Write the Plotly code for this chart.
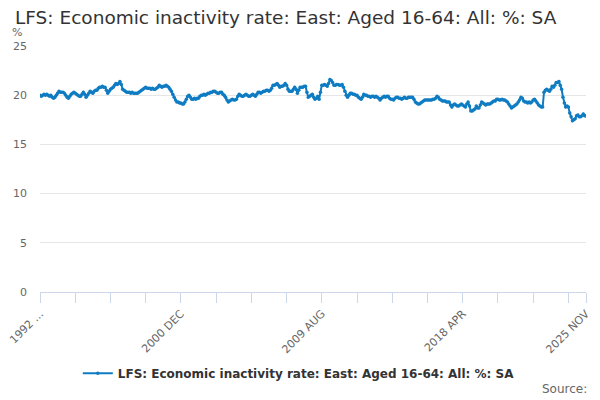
import plotly.graph_objects as go

# monthly series, 1992 APR .. 2025 NOV (one row per 12 months)
rate = [
    20.0, 19.9, 20.0, 20.1, 20.0, 20.1, 20.0, 19.9, 20.0, 19.8, 19.7, 19.8,
    20.0, 20.2, 20.4, 20.3, 20.3, 20.3, 20.2, 20.0, 19.8, 19.7, 19.9, 20.1,
    20.2, 20.3, 20.2, 20.1, 20.0, 19.9, 19.9, 20.1, 20.3, 20.1, 19.8, 20.0,
    20.2, 20.4, 20.3, 20.2, 20.4, 20.5, 20.5, 20.7, 20.8, 20.8, 20.9, 20.8,
    20.8, 20.5, 20.2, 20.4, 20.6, 20.7, 20.8, 21.0, 21.2, 21.1, 21.2, 21.4,
    21.1, 20.6, 20.5, 20.4, 20.3, 20.3, 20.3, 20.2, 20.3, 20.2, 20.2, 20.2,
    20.2, 20.3, 20.4, 20.5, 20.6, 20.7, 20.8, 20.7, 20.7, 20.7, 20.6, 20.7,
    20.6, 20.6, 20.7, 20.8, 21.0, 20.9, 20.8, 20.9, 20.9, 21.0, 20.9, 20.8,
    20.6, 20.4, 20.1, 19.8, 19.5, 19.3, 19.3, 19.2, 19.2, 19.1, 19.1, 19.3,
    19.6, 19.9, 20.0, 19.8, 19.6, 19.6, 19.7, 19.6, 19.7, 19.7, 19.9, 20.0,
    20.0, 20.1, 20.0, 20.1, 20.2, 20.2, 20.3, 20.3, 20.4, 20.4, 20.3, 20.2,
    20.2, 20.3, 20.3, 20.1, 20.0, 19.8, 19.5, 19.3, 19.4, 19.5, 19.6, 19.5,
    19.5, 19.6, 19.9, 20.1, 20.0, 19.9, 19.9, 20.0, 20.1, 20.0, 19.9, 19.9,
    20.0, 20.1, 20.0, 19.9, 20.1, 20.3, 20.3, 20.2, 20.3, 20.4, 20.4, 20.5,
    20.5, 20.4, 20.5, 20.7, 21.0, 21.0, 21.1, 21.2, 21.0, 20.8, 20.9, 20.9,
    21.0, 21.2, 21.0, 20.6, 20.4, 20.4, 20.4, 20.6, 20.8, 20.6, 20.2, 20.5,
    20.8, 20.8, 20.8, 20.9, 20.9, 20.3, 19.8, 19.9, 20.0, 20.1, 19.8, 19.6,
    19.7, 19.9, 19.6, 20.3, 21.0, 21.0, 21.1, 21.0, 20.9, 21.2, 21.6, 21.5,
    21.3, 21.0, 21.0, 21.1, 21.1, 21.0, 21.0, 21.1, 20.8, 20.4, 20.0, 19.8,
    20.0, 20.2, 20.2, 20.1, 20.1, 20.0, 20.0, 19.8, 19.7, 19.6, 19.8, 20.1,
    20.0, 20.0, 19.9, 19.9, 19.8, 19.9, 19.9, 19.8, 19.9, 19.8, 19.7, 19.5,
    19.7, 19.8, 19.9, 19.8, 19.9, 19.9, 19.7, 19.6, 19.6, 19.5, 19.7, 19.8,
    19.8, 19.7, 19.7, 19.6, 19.7, 19.8, 19.7, 19.7, 19.8, 19.8, 19.8, 19.8,
    19.6, 19.3, 19.2, 19.1, 19.1, 19.2, 19.3, 19.4, 19.5, 19.5, 19.5, 19.5,
    19.5, 19.5, 19.6, 19.6, 19.7, 19.9, 19.8, 19.6, 19.5, 19.4, 19.4, 19.4,
    19.3, 19.3, 19.3, 19.0, 18.8, 19.0, 19.1, 19.0, 18.9, 18.9, 19.0, 19.1,
    19.0, 18.9, 18.8, 19.1, 19.3, 18.9, 18.4, 18.4, 18.5, 18.6, 18.9, 18.7,
    18.7, 19.0, 19.3, 19.2, 19.1, 19.0, 19.1, 19.1, 19.1, 19.2, 19.3, 19.4,
    19.4, 19.6, 19.6, 19.5, 19.5, 19.6, 19.5, 19.5, 19.4, 19.3, 19.1, 18.9,
    18.7, 18.8, 18.9, 19.0, 19.1, 19.3, 19.5, 19.8, 19.7, 19.4, 19.3, 19.3,
    19.2, 19.3, 19.2, 19.3, 19.5, 19.6, 19.4, 19.2, 19.0, 18.9, 18.8, 18.8,
    20.3, 20.5, 20.6, 20.5, 20.4, 20.6, 20.9, 20.8, 21.0, 21.3, 21.3, 21.4,
    21.0, 20.6, 19.8, 19.2, 18.8, 18.9, 18.8, 18.2, 17.8, 17.4, 17.5, 17.6,
    17.9, 18.0, 17.8, 17.8, 17.9, 18.1, 17.9, 17.9,
]

month_names = ["JAN", "FEB", "MAR", "APR", "MAY", "JUN",
               "JUL", "AUG", "SEP", "OCT", "NOV", "DEC"]
start_year, start_month = 1992, 3  # APR
months = []
for i in range(len(rate)):
    k = start_month + i
    months.append(f"{start_year + k // 12} {month_names[k % 12]}")

label_months = ["1992 APR", "2000 DEC", "2009 AUG", "2018 APR", "2025 NOV"]
label_text = ["1992 ...", "2000 DEC", "2009 AUG", "2018 APR", "2025 NOV"]

# tick marks every 26 months, plus the last month
tick_vals = months[0:len(months) - 1:26]
if months[-1] not in tick_vals:
    tick_vals.append(months[-1])
tick_text = [label_text[label_months.index(m)] if m in label_months else ""
             for m in tick_vals]

series_name = "LFS: Economic inactivity rate: East: Aged 16-64: All: %: SA"
blue = "#0f7cc2"

fig = go.Figure()
fig.add_trace(go.Scatter(
    x=months, y=rate, mode="lines+markers", name="<b>" + series_name + "</b>",
    line=dict(color=blue, width=2),
    marker=dict(color=blue, size=3.5),
))

fig.update_layout(
    width=600, height=400,
    margin=dict(l=40, r=14, t=46, b=108, autoexpand=False),
    paper_bgcolor="white", plot_bgcolor="white",
    font=dict(family="DejaVu Sans", color="#666666", size=11),
    title=dict(text=series_name, x=15 / 600, xanchor="left",
               y=1 - 18 / 400, yanchor="middle",
               font=dict(size=18.5, color="#333333")),
    showlegend=True,
    legend=dict(orientation="h", x=0.474, xanchor="center",
                y=-0.33, yanchor="middle",
                font=dict(size=12, color="#333333", family="DejaVu Sans"),
                itemwidth=30),
    xaxis=dict(
        type="category", range=[0, len(months) - 1],
        tickmode="array", tickvals=tick_vals, ticktext=tick_text,
        tickangle=-45, ticks="outside", ticklen=10, tickcolor="#ccd6eb",
        showline=True, linecolor="#ccd6eb", showgrid=False,
        tickfont=dict(size=11, color="#666666"),
    ),
    yaxis=dict(
        range=[0, 25], tickvals=[0, 5, 10, 15, 20, 25],
        gridcolor="#e6e6e6", zeroline=False, showline=False,
        ticklabelstandoff=12,
        tickfont=dict(size=11, color="#666666"),
    ),
    annotations=[
        dict(text="%", xref="paper", yref="paper", x=-30 / 546, y=1.055,
             xanchor="left", yanchor="middle", showarrow=False,
             font=dict(size=11, color="#666666")),
        dict(text="Source:", xref="paper", yref="paper", x=1.005, y=-0.395,
             xanchor="right", yanchor="middle", showarrow=False,
             font=dict(size=12, color="#666666")),
    ],
)

# drop the browser's default 8px page margin so the figure sits at (0, 0)
fig.write_html("out.html", config={"displayModeBar": False},
               post_script="document.body.style.margin = '0';")
